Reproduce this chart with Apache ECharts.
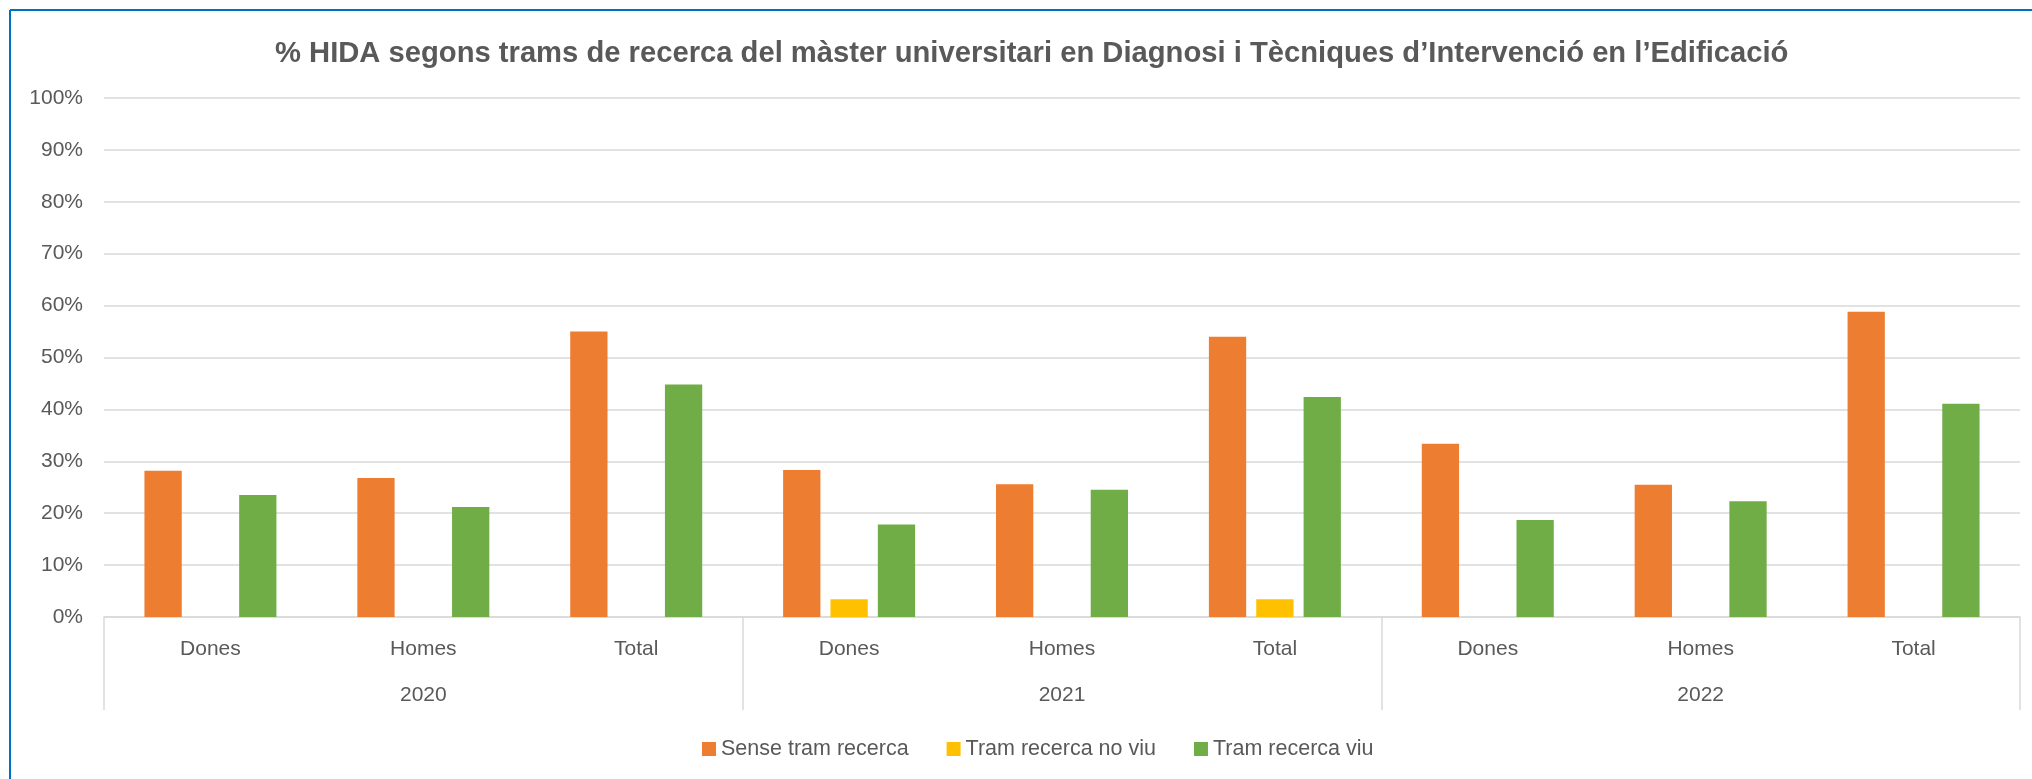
<!DOCTYPE html>
<html>
<head>
<meta charset="utf-8">
<script src="https://cdn.jsdelivr.net/npm/echarts@6/dist/echarts.min.js"></script>
<style>
  html, body { margin: 0; padding: 0; background: #fff; }
  #chart { width: 2032px; height: 779px; }
</style>
</head>
<body>
<div id="chart"></div>
<script>
// categories (two levels: group and year)
var groups = ["Dones", "Homes", "Total", "Dones", "Homes", "Total", "Dones", "Homes", "Total"];
var years = ["2020", "2021", "2022"];
var legendNames = ["Sense tram recerca", "Tram recerca no viu", "Tram recerca viu"];

// shares (0..1)
var senseTram = [0.282, 0.268, 0.550, 0.283, 0.256, 0.540, 0.334, 0.255, 0.588];
var tramNoViu = [0, 0, 0, 0.034, 0, 0.034, 0, 0, 0];
var tramViu = [0.235, 0.212, 0.448, 0.178, 0.245, 0.424, 0.187, 0.223, 0.411];

var textColor = "#595959";
var lineColor = "#d9d9d9";
var font = "'Liberation Sans', Arial, sans-serif";

var chart = echarts.init(document.getElementById("chart"));

function barSeries(name, data, color) {
  return {
    name: name,
    type: "bar",
    data: data,
    itemStyle: { color: color },
    barGap: "27%",
    barCategoryGap: "38%",
  };
}

chart.setOption({
  animation: false,
  textStyle: { fontFamily: font },
  title: {
    text: "% HIDA segons trams de recerca del màster universitari en Diagnosi i Tècniques d\u2019Intervenció en l\u2019Edificació",
    left: 270,
    top: 34,
    textStyle: {
      fontFamily: font,
      fontSize: 29.2,
      fontWeight: "bold",
      color: textColor,
    },
  },
  graphic: [
    {
      type: "line",
      shape: { x1: 10, y1: 10, x2: 2040, y2: 10 },
      style: { stroke: "#0070C0", lineWidth: 2 },
    },
    {
      type: "line",
      shape: { x1: 10, y1: 10, x2: 10, y2: 790 },
      style: { stroke: "#0070C0", lineWidth: 2 },
    },
  ],
  legend: {
    data: legendNames,
    left: 697,
    top: 733,
    itemWidth: 14,
    itemHeight: 14,
    itemGap: 38,
    icon: "rect",
    textStyle: { fontFamily: font, fontSize: 21.5, color: textColor },
  },
  grid: {
    left: 104,
    right: 12,
    top: 98,
    bottom: 162,
    containLabel: false,
  },
  xAxis: [
    {
      type: "category",
      data: groups,
      position: "bottom",
      axisLine: { show: true, lineStyle: { color: lineColor, width: 1.5 } },
      axisTick: { show: false },
      axisLabel: {
        interval: 0,
        margin: 22,
        fontSize: 21,
        color: textColor,
        fontFamily: font,
      },
    },
    {
      type: "category",
      data: years,
      position: "bottom",
      axisLine: { show: false },
      axisTick: {
        show: true,
        interval: 0,
        length: 93,
        lineStyle: { color: lineColor, width: 1.5 },
      },
      axisLabel: {
        interval: 0,
        margin: 68,
        fontSize: 21,
        color: textColor,
        fontFamily: font,
      },
    },
  ],
  yAxis: {
    type: "value",
    min: 0,
    max: 1,
    interval: 0.1,
    axisLine: { show: false },
    axisTick: { show: false },
    splitLine: { lineStyle: { color: lineColor, width: 1.5 } },
    axisLabel: {
      margin: 21,
      fontSize: 21,
      color: textColor,
      fontFamily: font,
      formatter: function (v) {
        return Math.round(v * 100) + "%";
      },
    },
  },
  series: [
    barSeries(legendNames[0], senseTram, "#ED7D31"),
    barSeries(legendNames[1], tramNoViu, "#FFC000"),
    barSeries(legendNames[2], tramViu, "#70AD47"),
  ],
});
</script>
</body>
</html>
